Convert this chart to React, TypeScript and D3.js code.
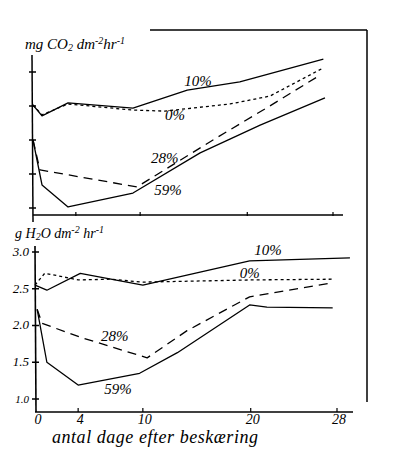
import React from 'react';
import * as d3 from 'd3';

// days after pruning, shared x ticks
const xTicks = [0, 4, 10, 20, 28];
const topYTicks = [1, 2, 3, 4, 5];
const botYTicks = [1.0, 1.5, 2.0, 2.5, 3.0];

// top panel: mg CO2 dm-2 hr-1 (unlabelled units)
const co2_10 = [[0, 4.03], [0.84, 3.71], [3.27, 4.09], [9.33, 3.94], [14.4, 4.47], [19.3, 4.71], [27.1, 5.38]];
const co2_0 = [[0, 4.03], [0.84, 3.74], [3.27, 4.06], [9.33, 3.88], [12.3, 3.85], [18.4, 4.06], [22.1, 4.29], [27.1, 5.12]];
const co2_28 = [[0, 3.0], [0.65, 2.12], [9.7, 1.62], [16.8, 3.0], [22.1, 4.0], [26.8, 4.91]];
const co2_59 = [[0, 3.0], [0.84, 1.68], [3.27, 1.03], [9.33, 1.44], [15.6, 2.62], [21.2, 3.44], [27.25, 4.24]];

// bottom panel: g H2O dm-2 hr-1
const h2o_10 = [[0, 2.55], [1.1, 2.48], [4.2, 2.71], [10.0, 2.55], [19.9, 2.88], [29.2, 2.92]];
const h2o_0 = [[0, 2.55], [0.9, 2.71], [2.0, 2.68], [4.0, 2.62], [7.0, 2.63], [10.0, 2.59], [20.0, 2.62], [27.6, 2.63]];
const h2o_28 = [[0.2, 2.22], [0.65, 2.03], [4.2, 1.84], [10.4, 1.56], [14.1, 1.93], [19.9, 2.39], [27.6, 2.58]];
const h2o_59 = [[0.2, 2.22], [1.1, 1.5], [4.0, 1.19], [9.7, 1.35], [13.2, 1.63], [19.9, 2.28], [21.5, 2.25], [27.6, 2.24]];

const seriesNames = ['10%', '0%', '28%', '59%'];
const topLabelPos = [[15.4, 4.68], [13.25, 3.68], [12.3, 2.41], [12.6, 1.47]];
const botLabelPos = [[21.6, 3.0], [19.9, 2.69], [7.4, 1.83], [7.7, 1.12]];

const font = '"Liberation Serif", serif';
const dashes = [undefined, '3,3', '9,6', undefined];

export default function App() {
  const xTop = d3.scaleLinear().domain([0, 28]).range([33, 333]);
  const yTop = d3.scaleLinear().domain([1, 5]).range([208, 72]);
  const xBot = d3.scaleLinear().domain([0, 28]).range([35, 337]);
  const yBot = d3.scaleLinear().domain([1, 3]).range([399, 252]);

  const lineTop = d3.line<number[]>().x(d => xTop(d[0])).y(d => yTop(d[1]));
  const lineBot = d3.line<number[]>().x(d => xBot(d[0])).y(d => yBot(d[1]));

  const topSeries = [co2_10, co2_0, co2_28, co2_59];
  const botSeries = [h2o_10, h2o_0, h2o_28, h2o_59];

  const topAxisY = 215;
  const botAxisY = 412;

  return (
    <svg width={394} height={462} style={{ position: 'absolute', left: 0, top: 0, background: '#fff' }}>
      {/* scan frame */}
      <line x1={150} y1={30} x2={367} y2={30} stroke="#000" strokeWidth={1.3} />
      <line x1={367} y1={30} x2={367} y2={402} stroke="#000" strokeWidth={1.5} />

      {/* top panel axes */}
      <text x={25} y={49} fontFamily={font} fontStyle="italic" fontSize={15}>
        mg CO<tspan fontSize={10} dy={2}>2</tspan>
        <tspan dy={-2}> dm</tspan><tspan fontSize={10} dy={-5}>-2</tspan>
        <tspan dy={5}>hr</tspan><tspan fontSize={10} dy={-5}>-1</tspan>
      </text>
      <line x1={32} y1={55} x2={33} y2={222} stroke="#000" strokeWidth={1.5} />
      <line x1={33} y1={topAxisY} x2={343} y2={topAxisY} stroke="#000" strokeWidth={1.5} />
      {topYTicks.map(t => (
        <line key={`ty${t}`} x1={29} x2={36} y1={yTop(t)} y2={yTop(t)} stroke="#000" strokeWidth={1.5} />
      ))}
      {xTicks.slice(1).map(t => (
        <line key={`tx${t}`} x1={xTop(t)} x2={xTop(t)} y1={topAxisY - 3} y2={topAxisY + 1} stroke="#000" strokeWidth={1.2} />
      ))}
      {topSeries.map((s, i) => (
        <path key={`tp${i}`} d={lineTop(s) || ''} fill="none" stroke="#000" strokeWidth={1.3}
          strokeDasharray={dashes[i]} strokeLinejoin="round" />
      ))}
      {seriesNames.map((n, i) => (
        <text key={`tl${i}`} x={xTop(topLabelPos[i][0])} y={yTop(topLabelPos[i][1])} fontFamily={font}
          fontStyle="italic" fontSize={15} textAnchor="middle" dominantBaseline="middle">{n}</text>
      ))}

      {/* bottom panel axes */}
      <text x={15} y={238} fontFamily={font} fontStyle="italic" fontSize={14}>
        g H<tspan fontSize={10} dy={2}>2</tspan>
        <tspan dy={-2}>O dm</tspan><tspan fontSize={10} dy={-5}>-2</tspan>
        <tspan dy={5}> hr</tspan><tspan fontSize={10} dy={-5}>-1</tspan>
      </text>
      <line x1={35} y1={246} x2={36} y2={botAxisY} stroke="#000" strokeWidth={1.6} />
      <line x1={35} y1={botAxisY} x2={353} y2={botAxisY} stroke="#000" strokeWidth={1.5} />
      {botYTicks.map(t => (
        <g key={`by${t}`}>
          <line x1={32} x2={39} y1={yBot(t)} y2={yBot(t)} stroke="#000" strokeWidth={1.5} />
          <text x={29} y={yBot(t) + 1} fontFamily={font} fontStyle="italic" fontSize={t === 1 ? 11 : 13}
            textAnchor="end" dominantBaseline="middle">{t.toFixed(1)}</text>
        </g>
      ))}
      {xTicks.map(t => (
        <g key={`bx${t}`}>
          {t > 0 && <line x1={xBot(t)} x2={xBot(t)} y1={botAxisY - 4} y2={botAxisY} stroke="#000" strokeWidth={1.2} />}
          <text x={xBot(t) + (t === 0 ? 3 : 2)} y={botAxisY + 9} fontFamily={font} fontStyle="italic"
            fontSize={14} textAnchor="middle" dominantBaseline="middle">{t}</text>
        </g>
      ))}
      {botSeries.map((s, i) => (
        <path key={`bp${i}`} d={lineBot(s) || ''} fill="none" stroke="#000" strokeWidth={1.3}
          strokeDasharray={dashes[i]} strokeLinejoin="round" />
      ))}
      {seriesNames.map((n, i) => (
        <text key={`bl${i}`} x={xBot(botLabelPos[i][0])} y={yBot(botLabelPos[i][1])} fontFamily={font}
          fontStyle="italic" fontSize={15} textAnchor="middle" dominantBaseline="middle">{n}</text>
      ))}

      <text x={52} y={443} fontFamily={font} fontStyle="italic" fontSize={18} textLength={206}
        lengthAdjust="spacing">antal dage efter beskæring</text>
    </svg>
  );
}
